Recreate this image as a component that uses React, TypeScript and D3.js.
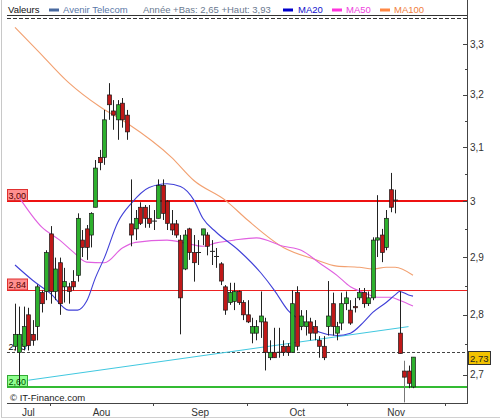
import React from "react";
import * as d3 from "d3";

// ---- data ----
const candleOpen = [2.747,2.737,2.747,2.800,2.767,2.780,2.838,2.840,2.941,2.840,2.890,2.848,2.848,2.857,2.868,2.930,2.950,2.939,2.989,3.081,3.081,3.200,3.169,3.152,3.184,3.161,2.959,2.950,2.989,2.989,2.969,2.964,2.969,3.029,3.000,2.959,2.959,2.930,2.879,2.950,2.908,2.908,2.939,2.939,2.910,2.901,2.888,2.848,2.821,2.823,2.840,2.821,2.800,2.769,2.769,2.788,2.788,2.728,2.737,2.737,2.747,2.747,2.737,2.838,2.780,2.780,2.788,2.780,2.757,2.747,2.780,2.819,2.769,2.786,2.819,2.808,2.814,2.829,2.838,2.819,2.829,2.930,2.939,2.917,3.021,3.002,2.769,2.706,2.706,2.680];
const candleHigh = [2.819,2.814,2.814,2.812,2.791,2.852,2.842,2.912,2.955,2.899,2.899,2.881,2.855,2.877,2.978,2.948,2.957,2.980,3.076,3.095,3.171,3.223,3.190,3.190,3.194,3.171,3.040,2.984,2.998,2.993,2.993,2.984,3.040,3.040,3.002,2.984,2.966,2.939,2.948,2.952,2.939,2.930,2.950,2.944,2.930,2.916,2.891,2.851,2.855,2.855,2.842,2.825,2.825,2.795,2.791,2.840,2.795,2.757,2.778,2.778,2.757,2.752,2.842,2.849,2.808,2.808,2.795,2.791,2.764,2.764,2.858,2.838,2.788,2.838,2.840,2.825,2.829,2.846,2.846,2.840,2.935,3.011,2.950,2.984,3.052,3.021,2.840,2.723,2.715,2.729];
const candleLow = [2.740,2.682,2.740,2.740,2.748,2.757,2.804,2.825,2.819,2.825,2.800,2.821,2.819,2.842,2.857,2.900,2.895,2.917,2.989,3.057,3.067,3.152,3.133,3.114,3.137,3.114,2.919,2.930,2.957,2.952,2.952,2.948,2.969,2.966,2.948,2.939,2.934,2.767,2.877,2.895,2.857,2.886,2.921,2.903,2.886,2.881,2.851,2.800,2.817,2.808,2.817,2.791,2.786,2.752,2.757,2.761,2.707,2.724,2.728,2.728,2.731,2.731,2.737,2.740,2.774,2.765,2.757,2.757,2.728,2.724,2.765,2.765,2.757,2.774,2.808,2.783,2.804,2.825,2.812,2.815,2.825,2.900,2.891,2.912,2.980,2.978,2.735,2.655,2.678,2.678];
const candleClose = [2.767,2.767,2.780,2.748,2.757,2.848,2.819,2.908,2.840,2.879,2.819,2.857,2.840,2.848,2.969,2.917,2.917,2.978,3.061,3.071,3.152,3.181,3.161,3.181,3.152,3.129,2.939,2.969,2.960,2.969,2.960,2.964,3.029,2.978,2.960,2.948,2.939,2.829,2.939,2.908,2.890,2.908,2.950,2.919,2.910,2.901,2.858,2.808,2.838,2.840,2.821,2.800,2.788,2.780,2.780,2.798,2.737,2.737,2.728,2.737,2.737,2.737,2.819,2.747,2.798,2.788,2.769,2.769,2.747,2.728,2.798,2.780,2.780,2.819,2.829,2.786,2.812,2.838,2.819,2.829,2.930,2.934,2.908,2.969,2.989,3.002,2.735,2.696,2.686,2.729];

const ma20Idx = [0,4,8,12,14,16,18,20,23,26,30,34,37,40,42,45,50,55,58,61,65,68,72,75,78,80,83,85,86,88,89];
const ma20Val = [2.886,2.859,2.836,2.808,2.808,2.823,2.864,2.899,2.962,2.996,3.025,3.032,3.027,3.002,2.969,2.944,2.912,2.872,2.842,2.808,2.786,2.771,2.765,2.769,2.788,2.804,2.821,2.834,2.840,2.834,2.832];
const ma50Idx = [1,6,10,13,16,20,24,27,34,38,42,45,49,54,60,64,68,72,75,78,81,84,86,89];
const ma50Val = [3.006,2.953,2.930,2.909,2.891,2.890,2.916,2.926,2.930,2.925,2.919,2.925,2.930,2.934,2.919,2.912,2.890,2.868,2.848,2.838,2.830,2.830,2.825,2.815];
const ma100Idx = [0,5,12,19,25,35,40,47,52,60,67,72,77,80,83,85,89];
const ma100Val = [3.334,3.288,3.224,3.177,3.146,3.081,3.038,3.002,2.966,2.917,2.896,2.884,2.882,2.879,2.882,2.882,2.868];

const trendIdx = [3, 88];
const trendVal = [2.691, 2.780];

const levelValues = [3.0, 2.842, 2.737, 2.68];
const levelLabels = ["3,00", "2,84", "2,73", "2,60"];
const lastValue = 2.737;
const lastLabel = "2,73";

const yTickValues = [2.7, 2.8, 2.9, 3.0, 3.1, 3.2, 3.3];
const yMinorValues = [2.75, 2.85, 2.95, 3.05, 3.15, 3.25];

const monthLabels = ["Jul", "Aou", "Sep", "Oct", "Nov"];
const monthBounds = [-1.8, 7.8, 30.9, 51.9, 74.3, 96.2];

const legendTitle = "Valeurs";
const legendSeries = "Avenir Telecom";
const legendYear = "Année +Bas: 2,65 +Haut: 3,93";
const legendMA = ["MA20", "MA50", "MA100"];
const credit = "© IT-Finance.com";

// ---- layout ----
const W = 500, H = 419;
const PL = 7, PR = 467, PT = 20, PB = 403;
const FONT = "'Liberation Sans', Arial, sans-serif";

export default function App() {
  const x = d3.scaleLinear().domain([0, candleOpen.length - 1]).range([15, 413]);
  const y = d3.scaleLog().domain([2.654, 3.349]).range([PB, PT]);
  const fmt = (v: number) => d3.format("~g")(+v.toFixed(2)).replace(".", ",");

  const mkLine = (idx: number[], val: number[]) =>
    d3.line<number>().x((_, i) => x(idx[i])).y((d) => y(d)).curve(d3.curveMonotoneX)(val) || "";

  const levelStyles = [
    { stroke: "#ee1111", width: 2, dash: "", box: "#ff8f8f", boxStroke: "#e03030", text: "#500" },
    { stroke: "#ee2222", width: 1, dash: "", box: "#ff8f8f", boxStroke: "#e03030", text: "#500" },
    { stroke: "#444", width: 1, dash: "3,2", box: "", boxStroke: "", text: "#000" },
    { stroke: "#33bb33", width: 2, dash: "", box: "#8fff8f", boxStroke: "#33aa33", text: "#050" },
  ];

  const bodyW = 4;

  return (
    <svg width={W} height={H} style={{ position: "absolute", left: 0, top: 0, background: "#fff" }} fontFamily={FONT}>
      <rect x={0} y={0} width={W} height={H} fill="#fff" />
      {/* frame */}
      <line x1={1.5} y1={0} x2={1.5} y2={418} stroke="#c8c8c8" />
      <line x1={1} y1={417.5} x2={W} y2={417.5} stroke="#d0d0d0" />

      {/* legend */}
      <g fontSize={9.5}>
        <text x={8} y={12.5} fill="#111">{legendTitle}</text>
        <rect x={49} y={8.5} width={10} height={3} fill="#4a6aa0" />
        <text x={63} y={12.5} fill="#5a78a8">{legendSeries}</text>
        <text x={143} y={12.5} fill="#6a7a90">{legendYear}</text>
        <rect x={283} y={8.5} width={10} height={3} fill="#0000cc" />
        <text x={298} y={12.5} fill="#1111cc">{legendMA[0]}</text>
        <rect x={332} y={8.5} width={10} height={3} fill="#ff33dd" />
        <text x={346} y={12.5} fill="#ee44dd">{legendMA[1]}</text>
        <rect x={380} y={8.5} width={10} height={3} fill="#ff8844" />
        <text x={394} y={12.5} fill="#f08040">{legendMA[2]}</text>
      </g>
      <line x1={PL} y1={15.5} x2={PR} y2={15.5} stroke="#333" />
      <line x1={PL} y1={18.5} x2={PR} y2={18.5} stroke="#333" strokeDasharray="4,2" />

      {/* level lines */}
      {levelValues.map((v, i) => {
        const s = levelStyles[i];
        const yy = Math.round(y(v)) + (s.width === 1 ? 0.5 : 0);
        return (
          <g key={"lv" + i}>
            <line x1={PL} x2={PR} y1={yy} y2={yy} stroke={s.stroke} strokeWidth={s.width} strokeDasharray={s.dash || undefined} />
            {s.box ? (
              <rect x={7.5} y={yy - 11.5} width={20} height={11} fill={s.box} stroke={s.boxStroke} strokeWidth={1} />
            ) : null}
            <text x={8.5} y={yy - 2.5} fontSize={9} fill={s.text}>{levelLabels[i]}</text>
          </g>
        );
      })}

      {/* trend line */}
      <line x1={x(trendIdx[0])} y1={y(trendVal[0])} x2={x(trendIdx[1])} y2={y(trendVal[1])} stroke="#40c8e0" strokeWidth={1} />

      {/* moving averages */}
      <path d={mkLine(ma100Idx, ma100Val)} fill="none" stroke="#f2a070" strokeWidth={1.1} />
      <path d={mkLine(ma50Idx, ma50Val)} fill="none" stroke="#e060e0" strokeWidth={1.1} />
      <path d={mkLine(ma20Idx, ma20Val)} fill="none" stroke="#4040d8" strokeWidth={1.1} />

      {/* candles */}
      {candleOpen.map((o, i) => {
        const c = candleClose[i];
        const cx = Math.round(x(i)) + 0.5;
        const top = y(Math.max(o, c));
        const bot = y(Math.min(o, c));
        const up = c > o;
        const flat = Math.abs(c - o) < 0.0005;
        return (
          <g key={"c" + i}>
            <line x1={cx} x2={cx} y1={y(candleHigh[i])} y2={Math.min(y(candleLow[i]), PB)} stroke={i === 87 ? "#777" : "#222"} strokeWidth={1} />
            {flat ? (
              <line x1={cx - 2.5} x2={cx + 2.5} y1={top} y2={top} stroke="#222" strokeWidth={1} />
            ) : (
              <rect x={cx - bodyW / 2} y={top} width={bodyW} height={Math.max(1, bot - top)} fill={up ? "#2db02d" : "#c01818"} stroke="#1a1a1a" strokeWidth={0.7} />
            )}
          </g>
        );
      })}

      {/* right axis */}
      <line x1={PR + 0.5} x2={PR + 0.5} y1={0} y2={PB} stroke="#444" />
      {yMinorValues.map((v, i) => (
        <line key={"mn" + i} x1={PR - 2} x2={PR} y1={Math.round(y(v)) + 0.5} y2={Math.round(y(v)) + 0.5} stroke="#444" />
      ))}
      {yTickValues.map((v, i) => (
        <g key={"yt" + i}>
          <line x1={PR - 4} x2={PR} y1={Math.round(y(v)) + 0.5} y2={Math.round(y(v)) + 0.5} stroke="#444" />
          <text x={PR + 3} y={y(v) + 3.5} fontSize={10} fill="#333">{fmt(v)}</text>
        </g>
      ))}
      {/* last value box */}
      <rect x={468.5} y={Math.round(y(lastValue)) - 0.5} width={22} height={13} fill="#f2c200" stroke="#333" strokeWidth={1} />
      <text x={470} y={Math.round(y(lastValue)) + 9.5} fontSize={9.5} fill="#222">{lastLabel}</text>

      {/* bottom axis */}
      <text x={10} y={401} fontSize={9.5} fill="#222">{credit}</text>
      <line x1={PL} x2={PR + 1} y1={PB + 0.5} y2={PB + 0.5} stroke="#444" />
      {monthBounds.slice(1).map((b, i) => (
        <line key={"mt" + i} x1={Math.round(x(b)) + 0.5} x2={Math.round(x(b)) + 0.5} y1={PB} y2={PB + 3} stroke="#444" />
      ))}
      {monthLabels.map((m, i) => (
        <text key={"ml" + i} x={x((monthBounds[i] + monthBounds[i + 1]) / 2)} y={416} fontSize={10} fill="#333" textAnchor="middle">{m}</text>
      ))}
    </svg>
  );
}
